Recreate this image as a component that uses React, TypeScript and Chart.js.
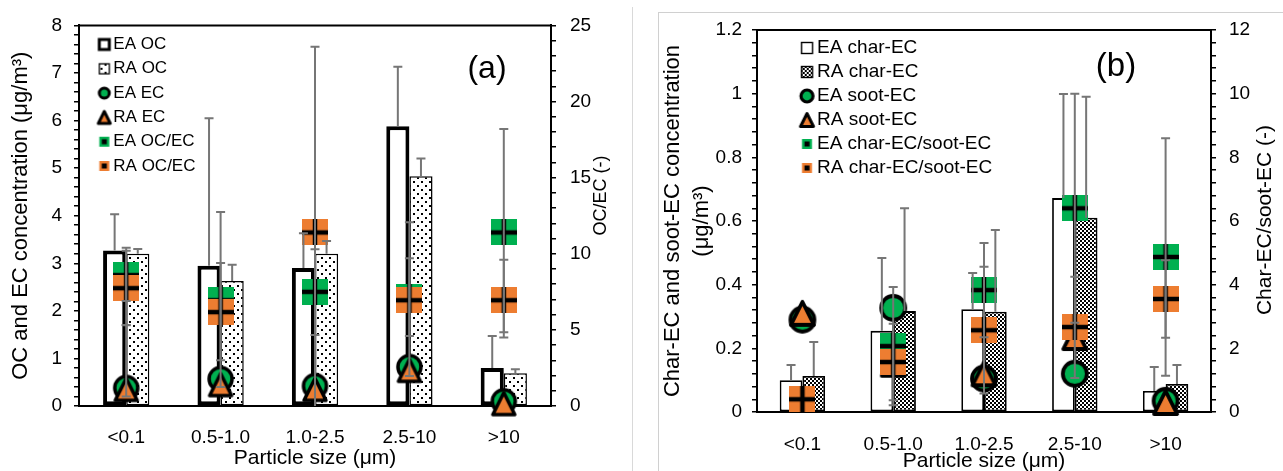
import React, { useEffect, useRef } from 'react';
import { Chart, registerables } from 'chart.js';

Chart.register(...registerables);

const FONT = '"Liberation Sans", Arial, sans-serif';
const GREEN = '#00B050';
const ORANGE = '#ED7D31';
const ERR_GRAY = '#767676';

Chart.defaults.font.family = FONT;
Chart.defaults.color = '#000';

// ---------- shared categories ----------
const SIZE_CLASSES = ['<0.1', '0.5-1.0', '1.0-2.5', '2.5-10', '>10'];

// ---------- panel (a) ----------
const EA_OC = [3.27, 2.95, 2.9, 5.88, 0.8];
const EA_OC_ERR_HI = [4.03, 6.05, 3.63, 7.13, 1.47];
const RA_OC = [3.2, 2.63, 3.2, 4.83, 0.69];
const RA_OC_ERR_HI = [3.3, 2.97, 3.47, 5.2, 0.77];
const EA_EC = [0.38, 0.57, 0.42, 0.82, 0.1];
const RA_EC = [0.35, 0.45, 0.35, 0.75, 0.05];
const RA_EC_ERR_LO = [0.2, null, null, null, null];
const RA_EC_ERR_HI = [1.7, null, null, null, null];
const EA_OC_EC = [8.6, 6.95, 7.5, 7.15, 11.4];
const EA_OC_EC_ERR_LO = [6.9, 1.25, 4.66, 1.97, 4.5];
const EA_OC_EC_ERR_HI = [10.4, 12.75, 10.3, 12.07, 18.2];
const RA_OC_EC = [7.74, 6.17, 11.4, 6.95, 6.95];
const RA_OC_EC_ERR_LO = [5.3, 3.0, 0, 4.6, 4.85];
const RA_OC_EC_ERR_HI = [10.2, 9.4, 23.6, 9.7, 9.6];

// ---------- panel (b) ----------
const EA_CHAR = [0.1, 0.255, 0.323, 0.672, 0.066];
const EA_CHAR_ERR_HI = [0.148, 0.484, 0.437, 0.999, 0.141];
const RA_CHAR = [0.113, 0.317, 0.315, 0.61, 0.088];
const RA_CHAR_ERR_HI = [0.22, 0.64, 0.572, 0.99, 0.148];
const EA_SOOT = [0.29, 0.327, 0.105, 0.12, 0.035];
const RA_SOOT = [0.31, 0.15, 0.12, 0.234, 0.03];
const EA_RATIO = [0.42, 2.07, 3.83, 6.4, 4.87];
const EA_RATIO_ERR_LO = [null, 0.21, 2.35, 2.8, 1.14];
const EA_RATIO_ERR_HI = [null, 3.93, 5.31, 10.0, 8.6];
const RA_RATIO = [0.4, 1.57, 2.57, 2.67, 3.55];
const RA_RATIO_ERR_LO = [null, 0.37, 0.58, 1.07, 2.33];
const RA_RATIO_ERR_HI = [null, 2.77, 4.56, 4.25, 4.77];

// ---------- drawing helpers ----------
function makeCanvas(w: number, h: number, draw: (g: CanvasRenderingContext2D) => void) {
  const c = document.createElement('canvas');
  c.width = w;
  c.height = h;
  const g = c.getContext('2d') as CanvasRenderingContext2D;
  draw(g);
  return c;
}

function dotPattern() {
  const tile = makeCanvas(8, 8, (g) => {
    g.fillStyle = '#fff';
    g.fillRect(0, 0, 8, 8);
    g.fillStyle = '#000';
    g.fillRect(1, 1, 2, 2);
    g.fillRect(5, 5, 2, 2);
  });
  return (tile.getContext('2d') as CanvasRenderingContext2D).createPattern(tile, 'repeat');
}

function checkerPattern() {
  const tile = makeCanvas(4, 4, (g) => {
    g.fillStyle = '#fff';
    g.fillRect(0, 0, 4, 4);
    g.fillStyle = '#000';
    g.fillRect(0, 0, 2, 2);
    g.fillRect(2, 2, 2, 2);
  });
  return (tile.getContext('2d') as CanvasRenderingContext2D).createPattern(tile, 'repeat');
}

function squareCross(color: string, s = 26, t = 4.5) {
  return makeCanvas(s, s, (g) => {
    g.fillStyle = color;
    g.fillRect(0, 0, s, s);
    g.fillStyle = '#000';
    g.fillRect((s - t) / 2, 0, t, s);
    g.fillRect(0, (s - t) / 2, s, t);
  });
}

function circleMarker(r: number, lw: number) {
  const size = Math.ceil(2 * r + lw + 2);
  return makeCanvas(size, size, (g) => {
    g.beginPath();
    g.arc(size / 2, size / 2, r, 0, Math.PI * 2);
    g.fillStyle = GREEN;
    g.fill();
    g.lineWidth = lw;
    g.strokeStyle = '#000';
    g.stroke();
  });
}

function drawTri(g: CanvasRenderingContext2D, cx: number, cy: number, half: number, lw: number, fill: string) {
  g.beginPath();
  g.moveTo(cx, cy - half);
  g.lineTo(cx + half, cy + half);
  g.lineTo(cx - half, cy + half);
  g.closePath();
  g.fillStyle = fill;
  g.fill();
  g.lineJoin = 'round';
  g.lineWidth = lw;
  g.strokeStyle = '#000';
  g.stroke();
}

function triangleMarker(half: number, lw: number) {
  const size = Math.ceil(2 * half + lw + 2);
  return makeCanvas(size, size, (g) => drawTri(g, size / 2, size / 2, half, lw, ORANGE));
}

function legendIcon(W: number, dx: number, draw: (g: CanvasRenderingContext2D, cx: number, cy: number) => void) {
  const H = 20;
  return makeCanvas(W, H, (g) => draw(g, W / 2 + dx, H / 2));
}

function iconSet(W: number, dx: number, panel: 'a' | 'b', pat1: CanvasPattern | null) {
  const rectIcon = (fill: any, lw: number, s: number) =>
    legendIcon(W, dx, (g, cx, cy) => {
      g.fillStyle = fill;
      g.fillRect(cx - s / 2, cy - s / 2, s, s);
      g.lineWidth = lw;
      g.strokeStyle = '#000';
      g.strokeRect(cx - s / 2, cy - s / 2, s, s);
    });
  const circ = (r: number, lw: number) =>
    legendIcon(W, dx, (g, cx, cy) => {
      g.beginPath();
      g.arc(cx, cy, r, 0, Math.PI * 2);
      g.fillStyle = GREEN;
      g.fill();
      g.lineWidth = lw;
      g.strokeStyle = '#000';
      g.stroke();
    });
  const tri = (half: number) => legendIcon(W, dx, (g, cx, cy) => drawTri(g, cx, cy, half, 3, ORANGE));
  const ratio = (color: string) =>
    legendIcon(W, dx, (g, cx, cy) => {
      g.fillStyle = color;
      g.fillRect(cx - 5, cy - 5, 10, 10);
      g.fillStyle = '#000';
      g.fillRect(cx - 2.5, cy - 2.5, 5, 5);
    });
  if (panel === 'a') {
    return [rectIcon('#fff', 3, 10), rectIcon(pat1, 1.3, 10), circ(5, 3), tri(6), ratio(GREEN), ratio(ORANGE)];
  }
  return [rectIcon('#fff', 1.4, 11), rectIcon(pat1, 1.4, 11), circ(6, 3.2), tri(6.5), ratio(GREEN), ratio(ORANGE)];
}

// ---------- plugins ----------
const errorBarPlugin = {
  id: 'errorBars',
  afterDatasetsDraw(chart: any) {
    const ctx = chart.ctx;
    ctx.save();
    ctx.strokeStyle = ERR_GRAY;
    ctx.lineWidth = 2;
    const cap = 4.5;
    chart.data.datasets.forEach((ds: any, i: number) => {
      const eb = ds.errorBars;
      if (!eb) return;
      const meta = chart.getDatasetMeta(i);
      const yScale = chart.scales[meta.yAxisID];
      meta.data.forEach((el: any, j: number) => {
        const hi = eb.hi[j];
        if (hi == null) return;
        const lo = eb.lo ? eb.lo[j] : null;
        const x = el.x;
        const yHi = yScale.getPixelForValue(hi);
        const yLo = yScale.getPixelForValue(lo != null ? Math.max(lo, yScale.min) : ds.data[j]);
        ctx.beginPath();
        ctx.moveTo(x, yLo);
        ctx.lineTo(x, yHi);
        ctx.moveTo(x - cap, yHi);
        ctx.lineTo(x + cap, yHi);
        if (lo != null && lo > yScale.min) {
          ctx.moveTo(x - cap, yLo);
          ctx.lineTo(x + cap, yLo);
        }
        ctx.stroke();
      });
    });
    ctx.restore();
  },
};

const framePlugin = {
  id: 'frameTop',
  afterDraw(chart: any) {
    const { ctx, chartArea } = chart;
    ctx.save();
    ctx.strokeStyle = '#000';
    ctx.lineWidth = 2;
    ctx.beginPath();
    ctx.moveTo(chartArea.left - 1, chartArea.top);
    ctx.lineTo(chartArea.right + 1, chartArea.top);
    ctx.stroke();
    ctx.restore();
  },
};

function panelLabel(text: string, fromRight: number, fromTop: number, size: number) {
  return {
    id: 'panelLabel',
    afterDraw(chart: any) {
      const { ctx, chartArea } = chart;
      ctx.save();
      ctx.font = `${size}px ${FONT}`;
      ctx.fillStyle = '#000';
      ctx.textAlign = 'center';
      ctx.textBaseline = 'middle';
      ctx.fillText(text, chartArea.right - fromRight, chartArea.top + fromTop);
      ctx.restore();
    },
  };
}

// right-hand axis title, reading bottom-to-top like the original
function rightTitle(text: string, fromRight: number, fromTop: number, size: number) {
  return {
    id: 'rightTitle',
    afterDraw(chart: any) {
      const { ctx, chartArea } = chart;
      ctx.save();
      ctx.translate(chartArea.right + fromRight, chartArea.top + fromTop);
      ctx.rotate(-Math.PI / 2);
      ctx.font = `${size}px ${FONT}`;
      ctx.fillStyle = '#000';
      ctx.textAlign = 'center';
      ctx.textBaseline = 'middle';
      ctx.fillText(text, 0, 0);
      ctx.restore();
    },
  };
}

const majorOnly = (step: number, decimals: number) => (v: any) => {
  const r = Number(v) / step;
  return Math.abs(r - Math.round(r)) < 1e-6 ? String(+Number(v).toFixed(decimals)) : '';
};

function yAxis(opts: {
  position: 'left' | 'right';
  max: number;
  step: number;
  major: number;
  decimals: number;
  width: number;
  pad: number;
  title?: string | string[];
  titleSize?: number;
  titleLH?: number;
  titlePad?: number;
}) {
  return {
    type: 'linear',
    position: opts.position,
    min: 0,
    max: opts.max,
    ticks: {
      stepSize: opts.step,
      autoSkip: false,
      callback: majorOnly(opts.major, opts.decimals),
      font: { size: 19 },
      color: '#000',
      padding: opts.pad,
    },
    grid: { drawOnChartArea: false, drawTicks: true, tickLength: 5, color: '#000', lineWidth: 1.5 },
    border: { display: true, color: '#000', width: 2 },
    title: {
      display: !!opts.title,
      text: opts.title || '',
      color: '#000',
      font: { size: opts.titleSize || 20, lineHeight: opts.titleLH || 1.2 },
      padding: { top: opts.titlePad || 0, bottom: 0 },
    },
    afterFit: (s: any) => {
      s.width = opts.width;
    },
  };
}

function xAxis(height: number, pad: number, titleLH: number) {
  return {
    type: 'category',
    offset: true,
    grid: { display: false },
    border: { display: true, color: '#000', width: 2 },
    ticks: { autoSkip: false, maxRotation: 0, font: { size: 19 }, color: '#000', padding: pad },
    title: {
      display: true,
      text: 'Particle size (μm)',
      color: '#000',
      font: { size: 21, lineHeight: titleLH },
      padding: { top: 0, bottom: 0 },
    },
    afterFit: (s: any) => {
      s.height = height;
    },
  };
}

function legendOpts(icons: HTMLCanvasElement[], fontSize: number, pw: number, pad: number, titleTop: number) {
  return {
    position: 'chartArea',
    align: 'start',
    title: { display: true, text: ' ', font: { size: 1, lineHeight: 1 }, padding: { top: titleTop - 1, bottom: 0 } },
    labels: {
      usePointStyle: true,
      pointStyleWidth: pw,
      padding: pad,
      color: '#000',
      font: { size: fontSize },
      generateLabels: (chart: any) =>
        chart.data.datasets.map((ds: any, i: number) => ({
          text: ds.label,
          pointStyle: icons[i],
          fillStyle: 'transparent',
          strokeStyle: 'transparent',
          lineWidth: 0,
          hidden: false,
          datasetIndex: i,
          fontColor: '#000',
        })),
    },
  };
}

function pointDs(label: string, data: number[], axis: string, style: HTMLCanvasElement, order: number, errorBars?: any) {
  return {
    type: 'line',
    label,
    data,
    yAxisID: axis,
    showLine: false,
    pointStyle: style,
    pointRadius: 12,
    pointHoverRadius: 12,
    order,
    clip: false,
    errorBars,
  };
}

function buildA(canvas: HTMLCanvasElement) {
  const dots = dotPattern();
  const icons = iconSet(40, 8.75, 'a', dots);
  return new Chart(canvas, {
    type: 'bar',
    data: {
      labels: SIZE_CLASSES,
      datasets: [
        {
          label: 'EA OC',
          data: EA_OC,
          yAxisID: 'y',
          backgroundColor: '#fff',
          borderColor: '#000',
          borderWidth: 4,
          borderSkipped: false,
          categoryPercentage: 0.49,
          barPercentage: 1,
          order: 10,
          errorBars: { hi: EA_OC_ERR_HI },
        },
        {
          label: 'RA OC',
          data: RA_OC,
          yAxisID: 'y',
          backgroundColor: dots,
          borderColor: '#000',
          borderWidth: 1.5,
          borderSkipped: false,
          categoryPercentage: 0.49,
          barPercentage: 1,
          order: 10,
          errorBars: { hi: RA_OC_ERR_HI },
        },
        pointDs('EA EC', EA_EC, 'y', circleMarker(11.5, 3.5), 5),
        pointDs('RA EC', RA_EC, 'y', triangleMarker(11, 3.5), 4, { lo: RA_EC_ERR_LO, hi: RA_EC_ERR_HI }),
        pointDs('EA OC/EC', EA_OC_EC, 'y2', squareCross(GREEN), 2, { lo: EA_OC_EC_ERR_LO, hi: EA_OC_EC_ERR_HI }),
        pointDs('RA OC/EC', RA_OC_EC, 'y2', squareCross(ORANGE), 1, { lo: RA_OC_EC_ERR_LO, hi: RA_OC_EC_ERR_HI }),
      ] as any,
    },
    options: {
      responsive: false,
      animation: false,
      events: [],
      layout: { padding: { top: 25, left: 0, right: 0, bottom: 0 } },
      scales: {
        x: xAxis(65, 12.6, 1.2),
        y: yAxis({
          position: 'left', max: 8, step: 0.2, major: 1, decimals: 0, width: 79, pad: 12,
          title: 'OC and EC concentration (μg/m³)', titleSize: 22, titleLH: 1.2, titlePad: 7.8,
        }),
        y2: yAxis({ position: 'right', max: 25, step: 1, major: 5, decimals: 0, width: 81, pad: 14 }),
      } as any,
      plugins: {
        legend: legendOpts(icons, 17, 18.5, 7.3, 28.7) as any,
        tooltip: { enabled: false },
      },
    },
    plugins: [errorBarPlugin, framePlugin, panelLabel('(a)', 64, 44, 32), rightTitle('OC/EC (-)', 50, 170, 18)] as any,
  });
}

function buildB(canvas: HTMLCanvasElement) {
  const checks = checkerPattern();
  const icons = iconSet(64, 22.25, 'b', checks);
  return new Chart(canvas, {
    type: 'bar',
    data: {
      labels: SIZE_CLASSES,
      datasets: [
        {
          label: 'EA char-EC',
          data: EA_CHAR,
          yAxisID: 'y',
          backgroundColor: '#fff',
          borderColor: '#000',
          borderWidth: 1.8,
          borderSkipped: false,
          categoryPercentage: 0.5,
          barPercentage: 1,
          order: 10,
          errorBars: { hi: EA_CHAR_ERR_HI },
        },
        {
          label: 'RA char-EC',
          data: RA_CHAR,
          yAxisID: 'y',
          backgroundColor: checks,
          borderColor: '#000',
          borderWidth: 1.8,
          borderSkipped: false,
          categoryPercentage: 0.5,
          barPercentage: 1,
          order: 10,
          errorBars: { hi: RA_CHAR_ERR_HI },
        },
        pointDs('EA soot-EC', EA_SOOT, 'y', circleMarker(12, 3.8), 5),
        pointDs('RA soot-EC', RA_SOOT, 'y', triangleMarker(11.5, 3.8), 4),
        pointDs('EA char-EC/soot-EC', EA_RATIO, 'y2', squareCross(GREEN), 2, { lo: EA_RATIO_ERR_LO, hi: EA_RATIO_ERR_HI }),
        pointDs('RA char-EC/soot-EC', RA_RATIO, 'y2', squareCross(ORANGE), 1, { lo: RA_RATIO_ERR_LO, hi: RA_RATIO_ERR_HI }),
      ] as any,
    },
    options: {
      responsive: false,
      animation: false,
      events: [],
      layout: { padding: { top: 30, left: 0, right: 0, bottom: 0 } },
      scales: {
        x: xAxis(59, 13.6, 0.9),
        y: yAxis({
          position: 'left', max: 1.2, step: 0.04, major: 0.2, decimals: 1, width: 117, pad: 10,
          title: ['Char-EC and soot-EC concentration', '(μg/m³)'], titleSize: 22, titleLH: 1.32, titlePad: 18.5,
        }),
        y2: yAxis({ position: 'right', max: 12, step: 0.4, major: 2, decimals: 0, width: 72, pad: 13 }),
      } as any,
      plugins: {
        legend: legendOpts(icons, 19, 45.5, 5, 33.5) as any,
        tooltip: { enabled: false },
      },
    },
    plugins: [errorBarPlugin, framePlugin, panelLabel('(b)', 95, 37, 33), rightTitle('Char-EC/soot-EC (-)', 54, 190, 21)] as any,
  });
}

export default function App() {
  const refA = useRef<HTMLCanvasElement>(null);
  const refB = useRef<HTMLCanvasElement>(null);

  useEffect(() => {
    const a = buildA(refA.current as HTMLCanvasElement);
    const b = buildB(refB.current as HTMLCanvasElement);
    return () => {
      a.destroy();
      b.destroy();
    };
  }, []);

  return (
    <div style={{ position: 'absolute', left: 0, top: 0, width: 1283, height: 471, overflow: 'hidden', background: '#fff' }}>
      <div style={{ position: 'absolute', left: 632, top: 7, width: 0, height: 480, borderLeft: '1px solid #d9d9d9' }} />
      <div style={{ position: 'absolute', left: 658, top: 12, width: 700, height: 500, border: '1px solid #d0d0d0' }} />
      <div style={{ position: 'absolute', left: 0, top: 0, width: 632, height: 471 }}>
        <canvas ref={refA} width={632} height={471} style={{ display: 'block' }} />
      </div>
      <div style={{ position: 'absolute', left: 640, top: 0, width: 643, height: 471 }}>
        <canvas ref={refB} width={643} height={471} style={{ display: 'block' }} />
      </div>
    </div>
  );
}
